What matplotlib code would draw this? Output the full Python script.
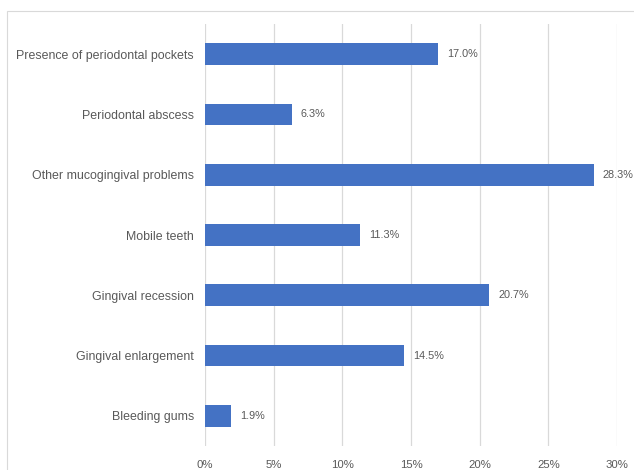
import matplotlib.pyplot as plt
from matplotlib.patches import Rectangle
from matplotlib.ticker import FuncFormatter

categories = ["Presence of periodontal pockets", "Periodontal abscess",
              "Other mucogingival problems", "Mobile teeth",
              "Gingival recession", "Gingival enlargement", "Bleeding gums"]
values = [17.0, 6.3, 28.3, 11.3, 20.7, 14.5, 1.9]
xticks = [0, 5, 10, 15, 20, 25, 30]

plt.rcParams['font.family'] = ['Liberation Sans', 'DejaVu Sans']
text_col = "#595959"
bar_col = "#4472C4"

fig = plt.figure(figsize=(6.34, 4.70), dpi=100)
ax = fig.add_axes([205 / 634, 1 - 446 / 470, 412 / 634, 422 / 470])

# rahmen um das diagramm (rechts/unten abgeschnitten)
fig.patches.append(Rectangle((7 / 634, -0.1), 1.0, (470 - 11) / 470 + 0.1,
                             transform=fig.transFigure, fill=False,
                             edgecolor="#D9D9D9", linewidth=0.8))

ypos = list(range(len(categories)))[::-1]
ax.barh(ypos, values, height=0.36, color=bar_col, zorder=3)
for y, v in zip(ypos, values):
    ax.text(v + 0.65, y, f"{v:.1f}%", va="center", ha="left",
            fontsize=7.8, color=text_col)

ax.set_xlim(0, 30)
ax.set_ylim(-0.5, len(categories) - 0.5)
ax.set_xticks(xticks)
ax.xaxis.set_major_formatter(FuncFormatter(lambda x, _: f"{x:.0f}%"))
ax.set_yticks(ypos)
ax.set_yticklabels(categories)
ax.tick_params(axis="both", length=0, labelsize=8.2, colors=text_col)
ax.tick_params(axis="y", pad=8, labelsize=8.9)
ax.tick_params(axis="x", pad=10)
ax.grid(axis="x", color="#D9D9D9", linewidth=0.9, zorder=0)
for s in ax.spines.values():
    s.set_visible(False)

fig.savefig("out.png", dpi=100)
